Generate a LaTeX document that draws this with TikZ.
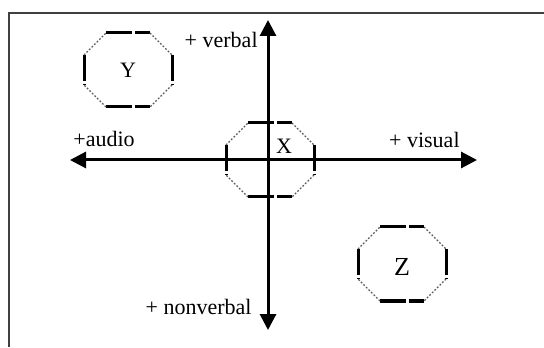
\documentclass[tikz,border=0pt]{standalone}
\usepackage{fontspec}
\setmainfont{Liberation Serif}
\usetikzlibrary{arrows.meta}
\tikzset{
  axis/.style={line width=1.5pt,-{Triangle[length=8pt,width=8pt]}},
  octthick/.style={line width=1.5pt,dash pattern=on 13pt off 1.5pt},
  octthin/.style={line width=0.6pt,gray!70!black,dash pattern=on 0.9pt off 0.9pt},
  lbl/.style={font=\fontsize{11}{12}\selectfont,inner sep=0pt}
}
% octagon round a named centre
\newcommand{\octbox}[1]{%
  \begin{scope}[shift={(#1)}]
  \draw[octthick] (-22,37)--(22,37);
  \draw[octthick] (-22,-37)--(22,-37);
  \draw[octthick] (-44,15)--(-44,-15);
  \draw[octthick] (44,15)--(44,-15);
  \draw[octthin] (22,37)--(44,15) (44,-15)--(22,-37) (-22,-37)--(-44,-15) (-44,15)--(-22,37);
  \end{scope}}

\begin{document}
\begin{tikzpicture}[x=0.5pt,y=0.5pt]
\useasboundingbox (0,0) rectangle (544,347);
\draw[line width=0.9pt,black!75] (9,0)--(9,334)--(544,334);
% centres
\coordinate (xc) at (270,187);
\coordinate (yc) at (128,277);
\coordinate (zc) at (402,83);
\octbox{xc}
\octbox{yc}
\octbox{zc}
\node[lbl] (x) at (284,201){X};
\node[lbl] (y) at (yc){Y};
\node[lbl,font=\fontsize{13}{14}\selectfont] (z) at (402,80){Z};
% axes
\coordinate (o) at (268,187);
\coordinate (up) at (268,327);
\coordinate (down) at (268,17);
\coordinate (left) at (70,187);
\coordinate (right) at (477,187);
\draw[axis] (o)--(up);
\draw[axis] (o)--(down);
\draw[axis] (o)--(left);
\draw[axis] (o)--(right);
\node[lbl,anchor=east] (verbal) at (258,307){+ verbal};
\node[lbl,anchor=west] (audio) at (73,208){+audio};
\node[lbl,anchor=east] (visual) at (460,207){+ visual};
\node[lbl,anchor=east] (nonverbal) at (252,40){+ nonverbal};
\end{tikzpicture}
\end{document}
